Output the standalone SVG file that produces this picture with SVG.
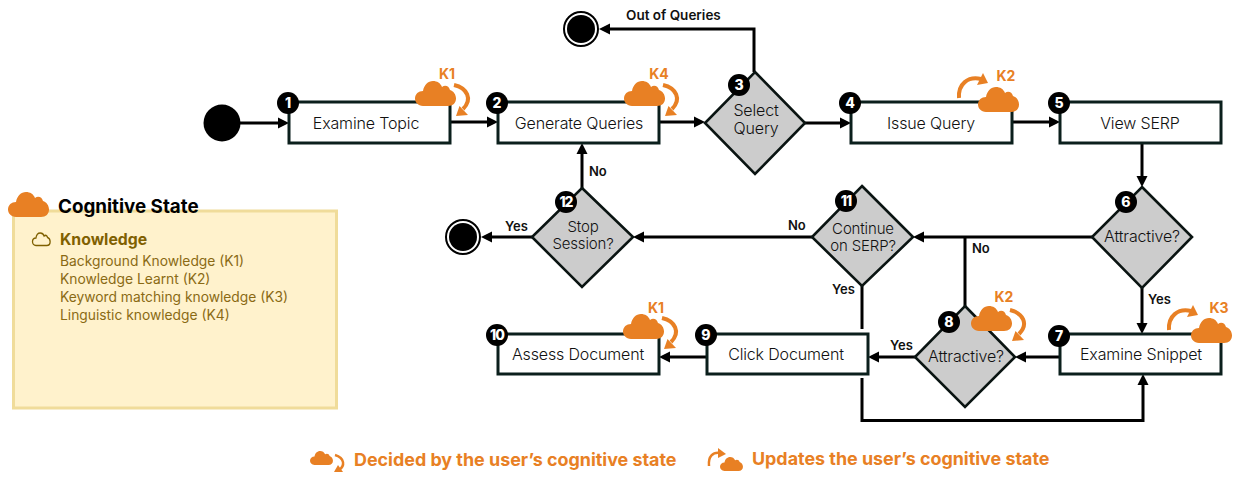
<svg xmlns="http://www.w3.org/2000/svg" xmlns:xlink="http://www.w3.org/1999/xlink" width="1240" height="482" viewBox="0 0 1240 482">
<style>
text{font-family:"Inter","Liberation Sans",sans-serif}
.box{fill:#fff;stroke:#0b1f1c;stroke-width:3}
.dia{fill:#ccc;stroke:#0a1412;stroke-width:2.600}
.t{font-size:16px;font-weight:300;fill:#111;text-anchor:middle;letter-spacing:-.15px}
.t2{font-size:15px}
.bd{fill:#000}
.n{font-size:14px;font-weight:800;fill:#fff;text-anchor:middle}
.nn{letter-spacing:-1px}
.k{font-size:14px;font-weight:700;fill:#e88024;text-anchor:middle}
.c{fill:none;stroke:#000;stroke-width:3}
.a{marker-end:url(#ah)}
.l{font-size:13px;font-weight:600;fill:#111}
.or{fill:#e88024}
.arc{fill:none;stroke:#e88024;stroke-width:4}
.i{font-size:13.800px;fill:#8a6a14}
.lg{font-size:17.900px;font-weight:700;fill:#e88024}
</style>
<defs>
<marker id="ah" markerUnits="userSpaceOnUse" markerWidth="11" markerHeight="12" viewBox="0 0 11 12" refX="5" refY="6" orient="auto"><path d="M0 .5L11 6L0 11.5z" fill="#000"/></marker>
<path id="cl" d="M8 25C3 25 0 21 0 17.500C0 13 3.500 10 8 10C9 4 13 0 18 0C22 0 25.500 2 27 6C30 3.500 34 5 35 9C38.500 10 41 13.500 41 17.500C41 22 38 25 33 25Z"/>
<g id="dec"><use xlink:href="#cl" class="or"/><path class="arc" d="M39 4C52 7 58 18 48 28"/><path class="or" d="M41 35L53 34L44.500 25Z"/></g>
<g id="upd"><path class="arc" d="M0 22C-1 8 9 0 22 3"/><path class="or" d="M24 -3L29 7L18 9Z"/></g>
</defs>

<g id="connectors">
<path class="c a" d="M240 123H283"/>
<path class="c a" d="M450 122H492"/>
<path class="c a" d="M659 122H699"/>
<path class="c a" d="M805 123H845"/>
<path class="c a" d="M1012 122H1054"/>
<path class="c a" d="M1142 143V181"/>
<path class="c a" d="M1142 288V328"/>
<path class="c a" d="M754 72V29H605"/>
<path class="c a" d="M1092 237H919"/>
<path class="c a" d="M812 237H639"/>
<path class="c a" d="M532 237H487"/>
<path class="c a" d="M582 188V149"/>
<path class="c" d="M965 306V237"/>
<path class="c a" d="M1060 357H1021"/>
<path class="c a" d="M915 357H874"/>
<path class="c a" d="M707 357H665"/>
<path class="c" d="M862 286V329"/>
<path class="c a" d="M862 378V420.500H1143V380"/>
</g>

<g id="labels">
<text class="l" x="626" y="20" style="font-size:13.500px">Out of Queries</text>
<text class="l" x="589" y="176">No</text>
<text class="l" x="505" y="231">Yes</text>
<text class="l" x="788" y="230">No</text>
<text class="l" x="832" y="294">Yes</text>
<text class="l" x="972" y="253">No</text>
<text class="l" x="1148" y="304">Yes</text>
<text class="l" x="890" y="350">Yes</text>
</g>

<g id="start"><circle cx="222" cy="123" r="18.500" fill="#000"/></g>
<g id="end-top"><circle cx="581" cy="29" r="17" fill="#fff" stroke="#000" stroke-width="2"/><circle cx="581" cy="29" r="14" fill="#000"/></g>
<g id="end-left"><circle cx="463" cy="237" r="17" fill="#fff" stroke="#000" stroke-width="2"/><circle cx="463" cy="237" r="14" fill="#000"/></g>

<g id="n1"><rect class="box" x="289" y="102" width="161" height="41"/><text class="t" x="366" y="129">Examine Topic</text><use xlink:href="#dec" x="415" y="81"/><text class="k" x="447" y="79">K1</text><circle class="bd" cx="288" cy="103" r="11"/><text class="n" x="288" y="108">1</text></g>
<g id="n2"><rect class="box" x="498" y="102" width="161" height="41"/><text class="t" x="579" y="129">Generate Queries</text><use xlink:href="#dec" x="624" y="81"/><text class="k" x="659" y="79">K4</text><circle class="bd" cx="497" cy="103" r="11"/><text class="n" x="497" y="108">2</text></g>
<g id="n3"><path class="dia" d="M755 72L805 123L755 174L705 123Z"/><text class="t" x="756" y="116">Select<tspan x="756" dy="18">Query</tspan></text><circle class="bd" cx="739" cy="85" r="11"/><text class="n" x="739" y="90">3</text></g>
<g id="n4"><rect class="box" x="851" y="102" width="161" height="41"/><text class="t" x="931" y="129">Issue Query</text><use xlink:href="#upd" x="959" y="76"/><use xlink:href="#cl" class="or" x="978" y="87"/><text class="k" x="1006" y="81">K2</text><circle class="bd" cx="850" cy="103" r="11"/><text class="n" x="850" y="108">4</text></g>
<g id="n5"><rect class="box" x="1060" y="102" width="161" height="41"/><text class="t" x="1140" y="129">View SERP</text><circle class="bd" cx="1059" cy="103" r="11"/><text class="n" x="1059" y="108">5</text></g>
<g id="n6"><path class="dia" d="M1142 187L1192 237L1142 288L1092 237Z"/><text class="t" x="1142" y="242">Attractive?</text><circle class="bd" cx="1126" cy="202" r="11"/><text class="n" x="1126" y="207">6</text></g>
<g id="n7"><rect class="box" x="1060" y="334" width="161" height="40"/><text class="t" x="1141" y="360">Examine Snippet</text><use xlink:href="#upd" x="1169" y="308"/><use xlink:href="#cl" class="or" x="1191" y="318"/><text class="k" x="1219" y="313">K3</text><circle class="bd" cx="1059" cy="336" r="11"/><text class="n" x="1059" y="341">7</text></g>
<g id="n8"><path class="dia" d="M965 306L1015 357L965 407L915 357Z"/><text class="t" x="966" y="362">Attractive?</text><use xlink:href="#dec" x="971" y="306"/><text class="k" x="1004" y="302">K2</text><circle class="bd" cx="949" cy="322" r="11"/><text class="n" x="949" y="327">8</text></g>
<g id="n9"><rect class="box" x="707" y="334" width="161" height="40"/><text class="t" x="786" y="360">Click Document</text><circle class="bd" cx="706" cy="335" r="11"/><text class="n" x="706" y="340">9</text></g>
<g id="n10"><rect class="box" x="498" y="334" width="161" height="40"/><text class="t" x="578" y="360">Assess Document</text><use xlink:href="#dec" x="623" y="314"/><text class="k" x="656" y="313">K1</text><circle class="bd" cx="497" cy="335" r="11"/><text class="n nn" x="497" y="340">10</text></g>
<g id="n11"><path class="dia" d="M862 186L913 237L862 286L812 237Z"/><text class="t t2" x="863" y="234">Continue<tspan x="863" dy="17">on SERP?</tspan></text><circle class="bd" cx="846" cy="201" r="11"/><text class="n nn" x="846" y="206">11</text></g>
<g id="n12"><path class="dia" d="M582 188L633 237L582 287L532 237Z"/><text class="t t2" x="583" y="232">Stop<tspan x="583" dy="17">Session?</tspan></text><circle class="bd" cx="566" cy="202" r="11"/><text class="n nn" x="566" y="207">12</text></g>

<g id="cognitive-state">
<rect x="13.500" y="211" width="323" height="197" fill="#fff2cc" stroke="#f0dc9a" stroke-width="3"/>
<use xlink:href="#cl" class="or" x="8" y="192"/>
<text x="58" y="213" font-size="18.800" font-weight="700" fill="#000">Cognitive State</text>
<use xlink:href="#cl" transform="translate(32.500 233) scale(.43 .5)" fill="none" stroke="#7f6000" stroke-width="3"/>
<text x="60" y="245" font-size="15.800" font-weight="700" fill="#7f6000">Knowledge</text>
<text class="i" x="60" y="266">Background Knowledge (K1)</text>
<text class="i" x="60" y="284">Knowledge Learnt (K2)</text>
<text class="i" x="60" y="302">Keyword matching knowledge (K3)</text>
<text class="i" x="60" y="320">Linguistic knowledge (K4)</text>
</g>

<g id="key">
<use xlink:href="#cl" class="or" transform="translate(310 451) scale(.56)"/>
<path class="arc" style="stroke-width:2.500" d="M335 455C345 458 345 466 339 470"/>
<path class="or" d="M334 472L343 472L338 465Z"/>
<text class="lg" x="354" y="466">Decided by the user’s cognitive state</text>
<path class="arc" style="stroke-width:2.500" d="M709 466C708 456 713 452 720 453"/>
<path class="or" d="M718 448L726 454L718 458Z"/>
<use xlink:href="#cl" class="or" transform="translate(720 457) scale(.56)"/>
<text class="lg" x="752" y="465">Updates the user’s cognitive state</text>
</g>
</svg>
